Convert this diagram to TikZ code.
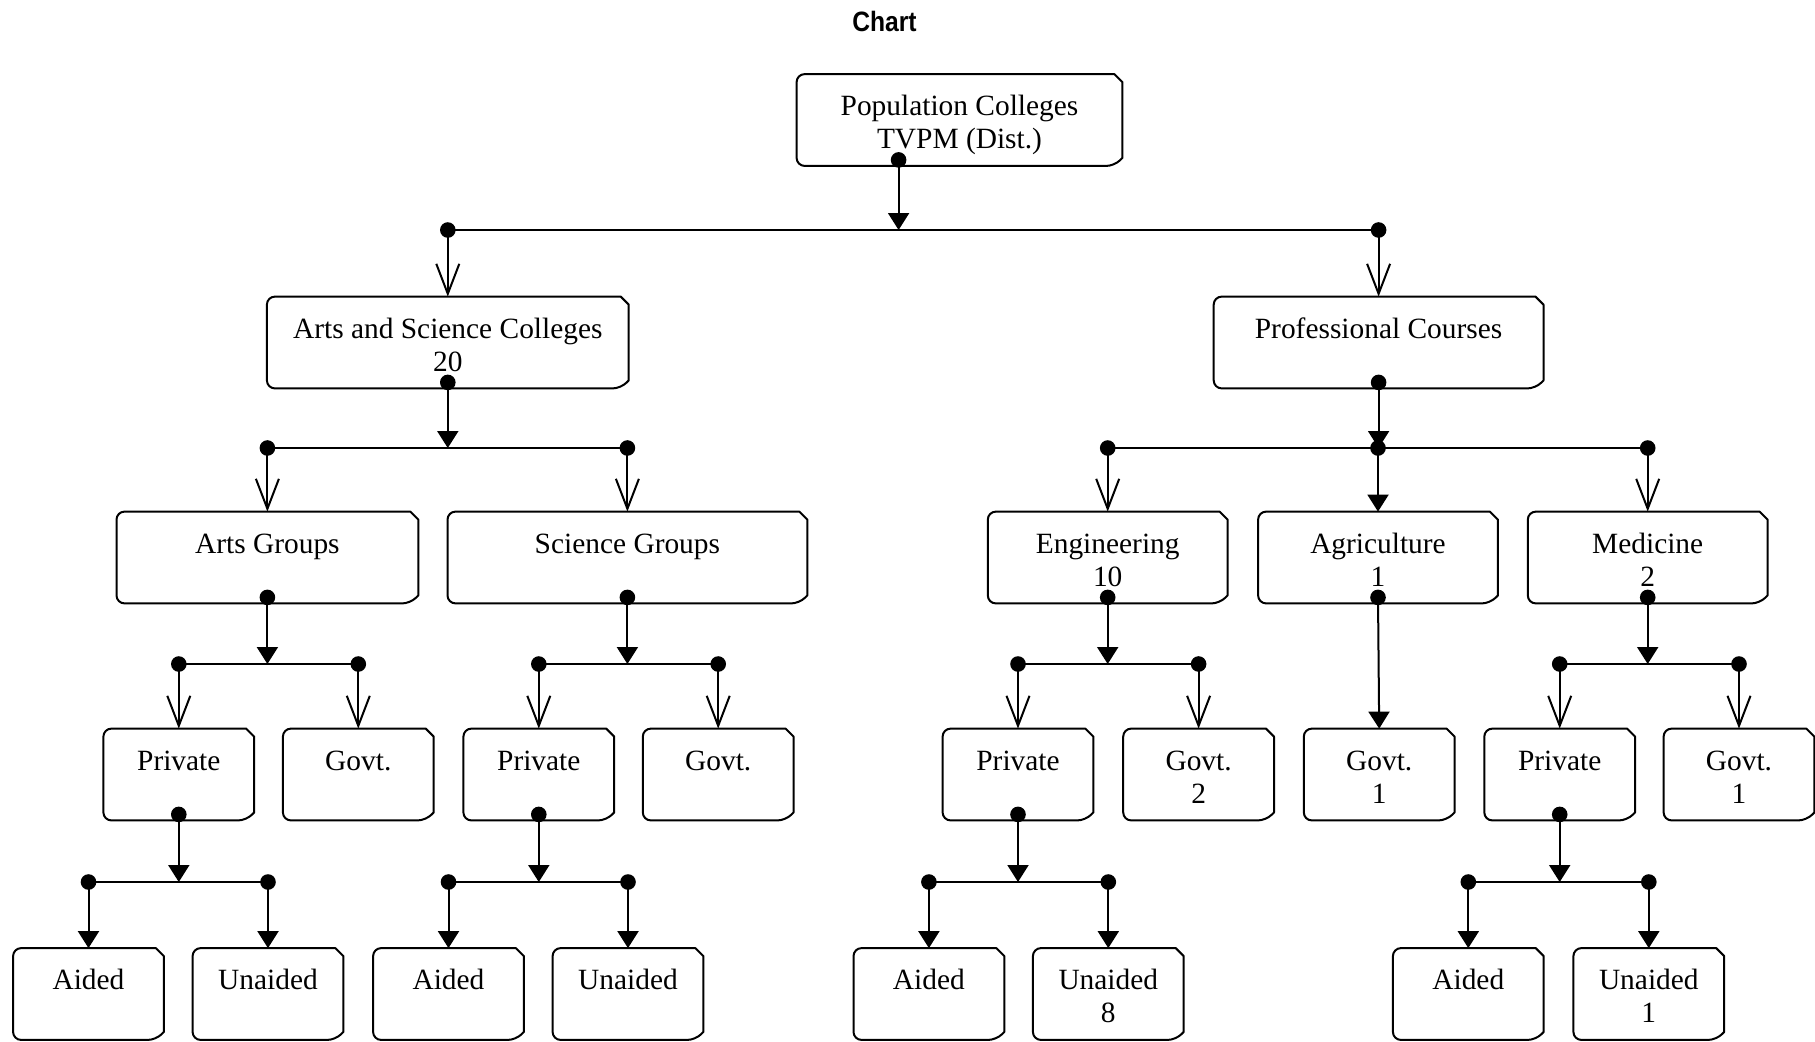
\documentclass[tikz,border=0pt]{standalone}
\usepackage{fontspec}
\setmainfont{Liberation Serif}
\newfontfamily\titlefont[FakeStretch=0.88]{Liberation Sans Bold}
\usetikzlibrary{arrows.meta,calc}
\newcommand\bt[2]{\rule{0pt}{12.1pt}#1\\\mbox{}\raisebox{0pt}[\height][0pt]{#2}}
\newcommand\famconn[5]{%
  \coordinate (#1d) at ($(#1.south)+(0,-6)$);
  \draw[fillarrow] (#1d) -- (#1d |- #2);
  \draw[conn] (#3 |- #2) -- (#4 |- #2);
  \draw[#5] (#3 |- #2) -- (#3.north);
  \draw[#5] (#4 |- #2) -- (#4.north);
  \fill (#1d) circle[radius=3.9pt] (#3 |- #2) circle[radius=3.9pt] (#4 |- #2) circle[radius=3.9pt];
}
\begin{document}
\begin{tikzpicture}[x=0.5pt,y=-0.5pt,
  box/.style={inner sep=0pt, minimum height=45.5pt, align=center, font=\fontsize{14.7}{16.5}\selectfont},
  small/.style={box, minimum width=75pt},
  outline/.style={line width=1pt, line join=round},
  conn/.style={line width=1pt},
  fillarrow/.style={conn, -{Triangle[length=8.5pt,width=10.5pt]}},
  veearrow/.style={conn, -{Straight Barb[length=15pt,width=11.5pt]}},
  ]
\useasboundingbox (0,0) rectangle (1815,1041);
\node[font=\titlefont\fontsize{14}{16}\selectfont] (title) at (884.5,21) {Chart};
% level 1
\node[box, minimum width=162.5pt] (root) at (959.5,120) {\bt{Population Colleges}{TVPM (Dist.)}};
% level 2
\node[box, minimum width=180.5pt] (asc) at (447.8,342.5) {\bt{Arts and Science Colleges}{20}};
\node[box, minimum width=164.5pt] (pro) at (1378.6,342.5) {\bt{Professional Courses}{}};
% level 3
\node[box, minimum width=150.5pt] (artg) at (267.4,557.5) {\bt{Arts Groups}{}};
\node[box, minimum width=179.5pt] (sg) at (627.4,557.5) {\bt{Science Groups}{}};
\node[box, minimum width=119.5pt] (eng) at (1107.7,557.5) {\bt{Engineering}{10}};
\node[box, minimum width=119.5pt] (agr) at (1378,557.5) {\bt{Agriculture}{1}};
\node[box, minimum width=119.5pt] (med) at (1647.7,557.5) {\bt{Medicine}{2}};
% level 4
\node[small] (ap) at (178.8,774.5) {\bt{Private}{}};
\node[small] (agv) at (358.3,774.5) {\bt{Govt.}{}};
\node[small] (sp) at (538.8,774.5) {\bt{Private}{}};
\node[small] (sgv) at (718.2,774.5) {\bt{Govt.}{}};
\node[small] (ep) at (1018,774.5) {\bt{Private}{}};
\node[small] (egv) at (1198.6,774.5) {\bt{Govt.}{2}};
\node[small] (arv) at (1379.2,774.5) {\bt{Govt.}{1}};
\node[small] (mp) at (1559.7,774.5) {\bt{Private}{}};
\node[small] (mgv) at (1739,774.5) {\bt{Govt.}{1}};
% level 5
\node[small] (apa) at (88.5,994) {\bt{Aided}{}};
\node[small] (apu) at (268,994) {\bt{Unaided}{}};
\node[small] (spa) at (448.5,994) {\bt{Aided}{}};
\node[small] (spu) at (628,994) {\bt{Unaided}{}};
\node[small] (epa) at (928.9,994) {\bt{Aided}{}};
\node[small] (epu) at (1108.3,994) {\bt{Unaided}{8}};
\node[small] (mpa) at (1468.3,994) {\bt{Aided}{}};
\node[small] (mpu) at (1648.8,994) {\bt{Unaided}{1}};
% outlines: rounded left corners, chamfered right corners
\foreach \n in {root,asc,pro,artg,sg,eng,agr,med,ap,agv,sp,sgv,ep,egv,arv,mp,mgv,apa,apu,spa,spu,epa,epu,mpa,mpu}{
  \draw[outline] (\n.north) [rounded corners=4pt] -- (\n.north west) -- (\n.south west) -- ($(\n.south east)+(-8,0)$) [sharp corners] -- ($(\n.south east)+(0,-8)$) -- ($(\n.north east)+(0,8)$) -- ($(\n.north east)+(-8,0)$) -- cycle;
}
% bar levels
\coordinate (b1) at (0,230);
\coordinate (b2) at (0,448);
\coordinate (b3) at (0,664);
\coordinate (b4) at (0,882);
% root family
\coordinate (rootd) at ($(root.south west)+(102,-6)$);
\draw[fillarrow] (rootd) -- (rootd |- b1);
\draw[conn] (asc |- b1) -- (pro |- b1);
\draw[veearrow] (asc |- b1) -- (asc.north);
\draw[veearrow] (pro |- b1) -- (pro.north);
\fill (rootd) circle[radius=3.9pt] (asc |- b1) circle[radius=3.9pt] (pro |- b1) circle[radius=3.9pt];
% level 2 families
\famconn{asc}{b2}{artg}{sg}{veearrow}
\famconn{pro}{b2}{eng}{med}{veearrow}
\draw[fillarrow] (agr |- b2) -- (agr.north);
\fill (agr |- b2) circle[radius=3.9pt];
% level 3 families
\famconn{artg}{b3}{ap}{agv}{veearrow}
\famconn{sg}{b3}{sp}{sgv}{veearrow}
\famconn{eng}{b3}{ep}{egv}{veearrow}
\coordinate (agrd) at ($(agr.south)+(0,-6)$);
\draw[fillarrow] (agrd) -- (arv.north);
\fill (agrd) circle[radius=3.9pt];
\famconn{med}{b3}{mp}{mgv}{veearrow}
% level 4 families
\famconn{ap}{b4}{apa}{apu}{fillarrow}
\famconn{sp}{b4}{spa}{spu}{fillarrow}
\famconn{ep}{b4}{epa}{epu}{fillarrow}
\famconn{mp}{b4}{mpa}{mpu}{fillarrow}
\end{tikzpicture}
\end{document}
